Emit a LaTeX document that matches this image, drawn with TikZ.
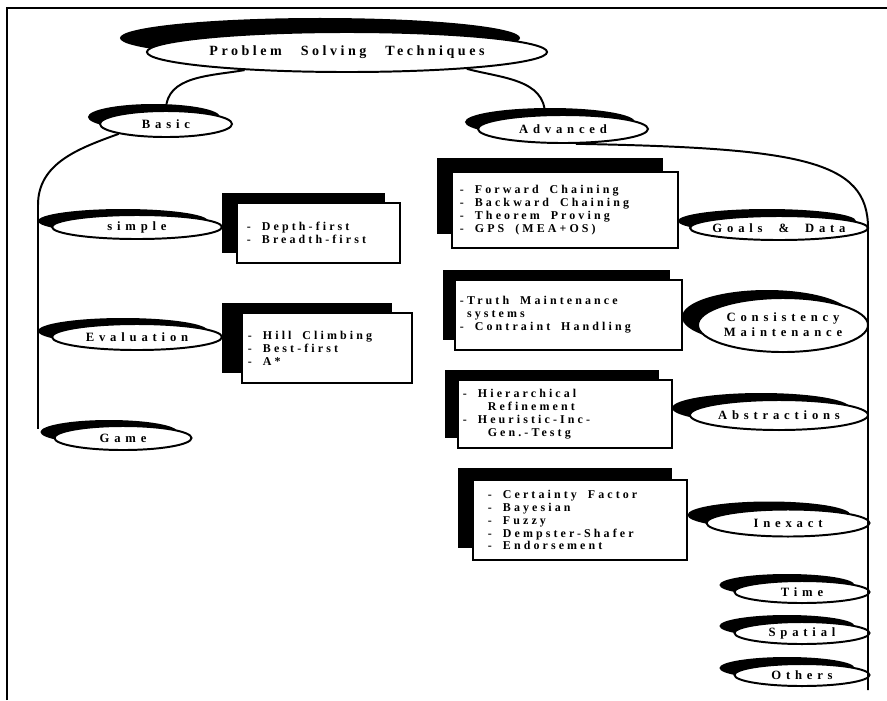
\documentclass[tikz,border=0pt]{standalone}
\usepackage{fontspec}
\newfontfamily\titlefont[LetterSpace=25,WordSpace=2.7]{Liberation Serif}
\newfontfamily\ovalfont[LetterSpace=38,WordSpace=2]{Liberation Serif}
\newfontfamily\boxfont[LetterSpace=26,WordSpace=1.8]{Liberation Serif}
\usetikzlibrary{shapes.geometric,shadows}

\begin{document}
\begin{tikzpicture}[x=0.025cm,y=-0.025cm,
  oval/.style={ellipse,draw,line width=1.4pt,fill=white,inner xsep=-0.3cm,inner ysep=0pt,
    font=\ovalfont\bfseries\fontsize{9}{10.5}\selectfont},
  itembox/.style={rectangle,draw,line width=1.4pt,fill=white,align=flush left,
    font=\boxfont\bfseries\fontsize{8.5}{9.2}\selectfont},
  blk/.style 2 args={general shadow={shadow xshift=#1,shadow yshift=#2,fill=black}},
  conn/.style={line width=1.4pt}
]
\useasboundingbox (0,0) rectangle (887,700);
\draw[line width=1.4pt] (7,700) -- (7,8) -- (887,8);

\node[oval,minimum width=10cm,minimum height=1cm,blk={-0.675cm}{0.35cm},
  font=\titlefont\bfseries\fontsize{10}{12}\selectfont] (root) at (347,52) {Problem Solving Techniques};
\node[oval,minimum width=3.3cm,minimum height=0.65cm,blk={-0.3cm}{0.175cm}] (basic) at (166,124) {Basic};
\node[oval,minimum width=4.25cm,minimum height=0.7cm,blk={-0.325cm}{0.175cm}] (advanced) at (563,129) {Advanced};

\node[oval,minimum width=4.25cm,minimum height=0.6cm,blk={-0.35cm}{0.15cm}] (simple) at (137,227) {simple};
\node[oval,minimum width=4.25cm,minimum height=0.65cm,blk={-0.35cm}{0.15cm}] (evaluation) at (137,337) {Evaluation};
\node[oval,minimum width=3.425cm,minimum height=0.6cm,blk={-0.35cm}{0.15cm}] (game) at (123,438) {Game};
\node[itembox,text width=3.575cm,inner xsep=0.25cm,minimum height=1.5cm,blk={-0.375cm}{0.25cm}] (search) at (318.5,233)
  {- Depth-first\\- Breadth-first};
\node[itembox,text width=3.95cm,inner xsep=0.15cm,minimum height=1.75cm,blk={-0.5cm}{0.25cm}] (heuristic) at (327,348)
  {- Hill Climbing\\- Best-first\\- A*};

\node[itembox,text width=5.25cm,inner xsep=0.2cm,minimum height=1.9cm,blk={-0.375cm}{0.35cm}] (chaining) at (565,210)
  {- Forward Chaining\\- Backward Chaining\\- Theorem Proving\\- GPS (MEA+OS)};
\node[oval,minimum width=4.45cm,minimum height=0.6cm,blk={-0.3cm}{0.175cm}] (goals) at (779,228) {Goals \& Data};
\node[itembox,text width=5.425cm,inner xsep=0.125cm,minimum height=1.75cm,blk={-0.3cm}{0.25cm}] (truth) at (568.5,315)
  {-Truth Maintenance\\\hspace*{5pt}systems\\- Contraint Handling};
\node[oval,minimum width=4.25cm,minimum height=1.35cm,align=center,blk={-0.4cm}{0.2cm}] (consistency) at (783,325)
  {Consistency\\Maintenance};
\node[itembox,text width=5.1cm,inner xsep=0.125cm,minimum height=1.7cm,blk={-0.325cm}{0.25cm}] (hierarchy) at (565,414)
  {- Hierarchical\\\hspace*{0.62cm}Refinement\\- Heuristic-Inc-\\\hspace*{0.62cm}Gen.-Testg};
\node[oval,minimum width=4.45cm,minimum height=0.75cm,blk={-0.45cm}{0.175cm}] (abstractions) at (779,415) {Abstractions};
\node[itembox,text width=4.6cm,inner xsep=0.375cm,minimum height=2cm,blk={-0.375cm}{0.3cm}] (certainty) at (580,520)
  {- Certainty Factor\\- Bayesian\\- Fuzzy\\- Dempster-Shafer\\- Endorsement};
\node[oval,minimum width=4.075cm,minimum height=0.675cm,blk={-0.475cm}{0.2cm}] (inexact) at (788,523) {Inexact};
\node[oval,minimum width=3.375cm,minimum height=0.55cm,blk={-0.375cm}{0.175cm}] (time) at (802,592) {Time};
\node[oval,minimum width=3.375cm,minimum height=0.55cm,blk={-0.375cm}{0.175cm}] (spatial) at (802,633) {Spatial};
\node[oval,minimum width=3.375cm,minimum height=0.55cm,blk={-0.375cm}{0.175cm}] (others) at (802,675) {Others};

\coordinate (lspine) at (38,205);
\coordinate (rspine) at (868,228);
\coordinate (rend) at (868,690);
\draw[conn] (root.190) to[out=190,in=90] (basic.north);
\draw[conn] (root.-8) to[out=-15,in=90] (advanced.141);
\draw[conn] (basic.south west) to[out=200,in=90] (lspine) -- (lspine |- game.north west);
\draw[conn] (advanced.-49) .. controls (800,148) and (868,160) .. (rspine) -- (rend);
\end{tikzpicture}
\end{document}
